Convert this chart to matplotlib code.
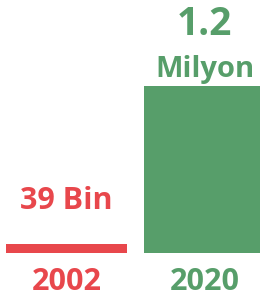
import numpy as np
import matplotlib
matplotlib.use('Agg')
import matplotlib.pyplot as plt

years      = ['2002', '2020']
values     = [39000, 1200000]
top_labels = [['39 Bin'], ['1.2', 'Milyon']]
colors     = ['#E8474C', '#579E6A']

plt.rcParams['font.family'] = ['Open Sans', 'DejaVu Sans']

fig = plt.figure(figsize=(2.6, 2.94), dpi=100)
ax  = fig.add_axes([0, 0, 1, 1])

# tiny value would vanish, keep a visible floor like the original graphic
shown = np.maximum(np.array(values, dtype=float), 0.054 * max(values))

px_x = 138.0
ax.set_xlim(-66.5 / px_x, (260 - 66.5) / px_x)
px_y = max(values) / 167.0
ax.set_ylim(-41 * px_y, (294 - 41) * px_y)

x = np.arange(len(years))
ax.bar(x, shown, width=121 / px_x, color=colors)

for i in range(len(years)):
    ax.annotate(years[i], xy=(x[i], 0), xytext=(0, -26.6), textcoords='offset points',
                ha='center', va='baseline', fontsize=22, fontweight='bold', color=colors[i])

ax.annotate(top_labels[0][0], xy=(x[0], shown[0]), xytext=(0, 25.2), textcoords='offset points',
            ha='center', va='baseline', fontsize=22, fontweight='bold', color=colors[0])
ax.annotate(top_labels[1][1], xy=(x[1], shown[1]), xytext=(0, 6.5), textcoords='offset points',
            ha='center', va='baseline', fontsize=21, fontweight='bold', color=colors[1])
ax.annotate(top_labels[1][0], xy=(x[1], shown[1]), xytext=(0, 36.7), textcoords='offset points',
            ha='center', va='baseline', fontsize=28, fontweight='bold', color=colors[1])

ax.axis('off')
fig.savefig('out.png', dpi=100)
